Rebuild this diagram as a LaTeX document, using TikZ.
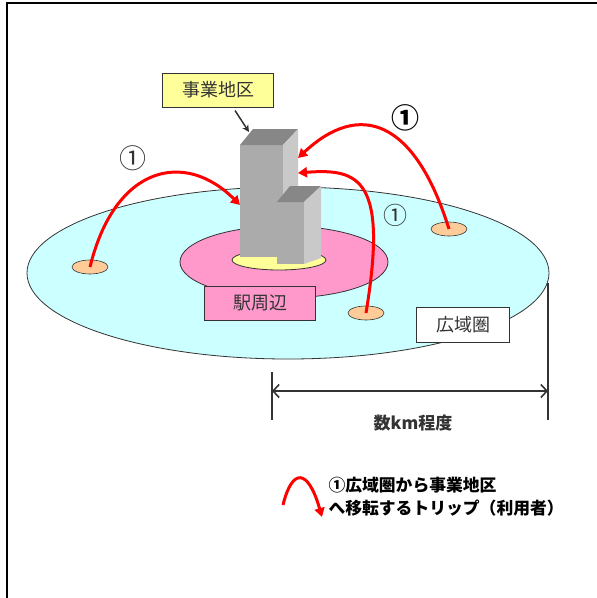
\documentclass[tikz,border=0pt]{standalone}
\usepackage{fontspec}
\newfontfamily\jp{Noto Sans CJK JP}
\usetikzlibrary{arrows.meta,shapes.geometric,positioning}
\definecolor{areacyan}{HTML}{CCFFFF}
\definecolor{stationpink}{HTML}{FF99CC}
\definecolor{sitecream}{HTML}{FFFF99}
\definecolor{spotorange}{HTML}{FFCC99}
\definecolor{inkgray}{HTML}{333333}
\tikzset{
  zone/.style={draw=inkgray,line width=0.8pt},
  spot/.style={ellipse,draw=inkgray,line width=0.6pt,fill=spotorange,minimum width=36pt,minimum height=14pt,inner sep=0pt},
  labelbox/.style={draw=inkgray,line width=1pt,inner sep=0pt,text=inkgray,font=\jp\fontsize{18}{18}\selectfont},
  trip/.style={-{Triangle[length=9pt,width=10pt]},red,line width=3pt},
  tag/.style={text=inkgray,font=\jp\fontsize{27}{27}\selectfont},
  dimline/.style={line width=1.6pt,inkgray},
  frontface/.style={fill=black!33},
  topface/.style={fill=black!47},
  sideface/.style={fill=black!21}
}

\begin{document}
\begin{tikzpicture}[x=1pt,y=-1pt]
    \useasboundingbox (0,0) rectangle (597,598);
    \draw[line width=2.5pt] (7,598) -- (7,3) -- (597,3);

    % rings round the site
    \draw[zone,fill=areacyan] (288,273) ellipse [x radius=261pt,y radius=86pt];
    \draw[zone,fill=stationpink] (284,262) ellipse [x radius=104pt,y radius=36pt];
    \draw[zone,fill=sitecream] (279,260) ellipse [x radius=47pt,y radius=10pt];

    % tall block
    \path[frontface] (240,145) rectangle (283,257);
    \path[topface] (240,145) -- (253,129) -- (298,129) -- (283,145) -- cycle;
    \path[sideface] (283,145) -- (298,129) -- (298,250) -- (283,257) -- cycle;
    % low block
    \path[frontface] (277,202) rectangle (304,264);
    \path[topface] (277,202) -- (290,186) -- (321,186) -- (304,202) -- cycle;
    \path[sideface] (304,202) -- (321,186) -- (321,258) -- (304,264) -- cycle;
    \coordinate (roof) at (249,132);
    \coordinate (westin) at (240,205);
    \coordinate (eastin) at (298,158);
    \coordinate (southin) at (298,173);

    \node[labelbox,fill=sitecream,minimum width=111pt,minimum height=34pt] (site) at (218,90) {事業地区};
    \draw[-{Stealth[length=7pt,width=7pt]},line width=1.5pt,inkgray] ([xshift=17pt,yshift=-3pt]site.south) -- (roof);
    \node[labelbox,fill=stationpink,minimum width=111pt,minimum height=34pt] (station) at (260,303) {駅周辺};
    \node[labelbox,fill=white,minimum width=93pt,minimum height=35pt] (wide) at (463,325) {広域圏};

    % trips from the wide area
    \node[spot] (spotW) at (90,267) {};
    \node[spot] (spotE) at (449,229) {};
    \node[spot] (spotS) at (366,313) {};
    \draw[trip] (spotW.center) .. controls (115,165) and (185,150) .. (westin);
    \draw[trip] (spotE.center) .. controls (415,120) and (360,100) .. (eastin);
    \draw[trip] (spotS.center) .. controls (388,180) and (360,168) .. (southin);
    \node[tag] (markW) at (133,158) {①};
    \node[tag,font=\jp\bfseries\fontsize{28}{28}\selectfont,text=black] (markE) at (405,118) {①};
    \node[tag,font=\jp\fontsize{24}{24}\selectfont] (markS) at (395,215) {①};

    % span of the wide area
    \coordinate (spanL) at (272,372);
    \coordinate (spanR) at (548,283);
    \draw[dimline] (spanL) -- (272,420);
    \draw[dimline] (spanR) -- (548,420);
    \draw[dimline,{Straight Barb[length=6pt,width=13pt]}-{Straight Barb[length=6pt,width=13pt]}] (272,391) -- (548,391);
    \node[text=inkgray,font=\jp\bfseries\fontsize{17}{17}\selectfont] (span) at (413,423) {数km程度};

    % legend
    \draw[trip] (283,505) .. controls (292,468) and (308,468) .. (322,517);
    \node[anchor=west,align=left,font=\jp\bfseries\fontsize{16.8}{23}\selectfont] (legend) at (325,497) {①広域圏から事業地区\\へ移転するトリップ（利用者）};
  \end{tikzpicture}
\end{document}
